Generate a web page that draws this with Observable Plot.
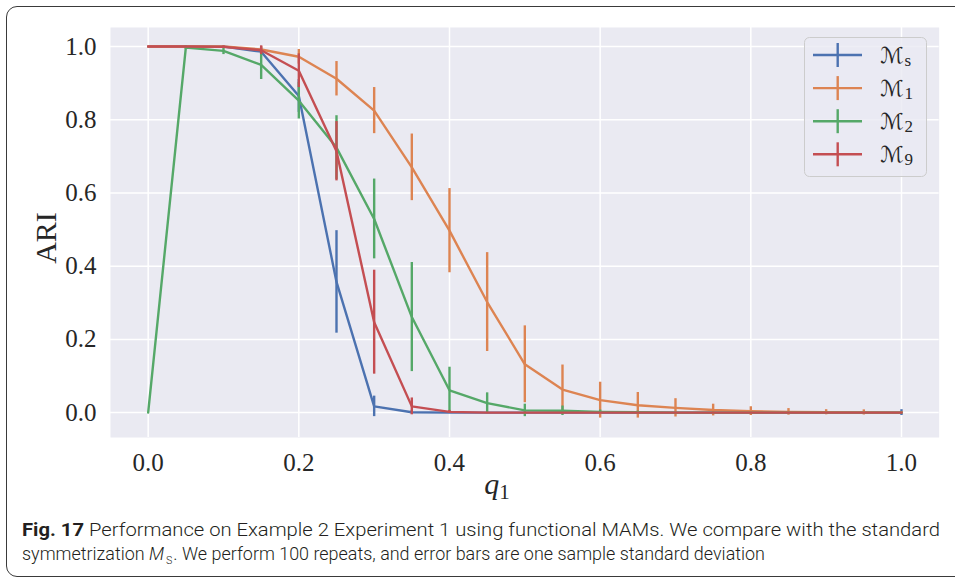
<!DOCTYPE html>
<html><head><meta charset="utf-8">
<script src="https://cdn.jsdelivr.net/npm/d3@7"></script>
<script src="https://cdn.jsdelivr.net/npm/@observablehq/plot@0.6"></script>
<style>
body{margin:0;background:#fff;}
#wrap{position:relative;width:955px;height:582px;overflow:hidden;}
#frame{position:absolute;left:6px;top:6px;width:1000px;height:571px;border:1.6px solid #3a3a3a;border-radius:11px;box-sizing:border-box;}
#chart{position:absolute;left:0;top:0;}
#caption{position:absolute;left:0;top:505px;}
svg text{fill:#262626;}
#caption text{fill:#231f20;}
</style></head><body>
<div id="wrap"><div id="frame"></div><div id="chart"></div><svg id="caption" width="955" height="77"></svg></div>
<script>
const q = [0, 0.05, 0.1, 0.15, 0.2, 0.25, 0.3, 0.35, 0.4, 0.45, 0.5, 0.55, 0.6, 0.65, 0.7, 0.75, 0.8, 0.85, 0.9, 0.95, 1.0];
const seriesKeys = ["s", "1", "2", "9"];
const seriesColors = ["#4C72B0", "#DD8452", "#55A868", "#C44E52"];
const meanS = [1, 1, 1, 0.986, 0.865, 0.357, 0.017, 0.001, 0, 0, 0, 0, 0, 0, 0, 0, 0, 0, 0, 0, 0];
const sdS   = [0, 0, 0, 0.01, 0.045, 0.14, 0.028, 0.005, 0.002, 0, 0, 0, 0, 0, 0, 0, 0, 0, 0, 0, 0.008];
const mean1 = [1, 1, 1, 0.992, 0.972, 0.912, 0.825, 0.67, 0.497, 0.302, 0.132, 0.063, 0.034, 0.02, 0.013, 0.007, 0.004, 0.002, 0.001, 0.0005, 0];
const sd1   = [0, 0, 0, 0.008, 0.02, 0.047, 0.063, 0.091, 0.115, 0.135, 0.105, 0.067, 0.049, 0.035, 0.025, 0.016, 0.012, 0.009, 0.007, 0.007, 0.003];
const mean2 = [0, 0.997, 0.988, 0.95, 0.852, 0.724, 0.529, 0.261, 0.061, 0.026, 0.006, 0.005, 0.002, 0.001, 0, 0, 0, 0, 0, 0, 0];
const sd2   = [0, 0.005, 0.01, 0.04, 0.05, 0.087, 0.109, 0.149, 0.063, 0.028, 0.017, 0.013, 0.005, 0.003, 0, 0, 0, 0, 0, 0, 0];
const mean9 = [1, 1, 0.999, 0.99, 0.934, 0.714, 0.247, 0.017, 0.002, 0, 0, 0, 0, 0, 0, 0, 0, 0, 0, 0, 0];
const sd9   = [0, 0, 0.003, 0.012, 0.046, 0.081, 0.142, 0.023, 0.004, 0, 0, 0, 0, 0, 0, 0, 0, 0, 0, 0, 0];
const xTicks = [0, 0.2, 0.4, 0.6, 0.8, 1.0];
const yTicks = [0, 0.2, 0.4, 0.6, 0.8, 1.0];
const xLabel = "q", xLabelSub = "1";
const yLabel = "ARI";
const captionBold = "Fig. 17";
const captionLine1 = "  Performance on Example 2 Experiment 1 using functional MAMs. We compare with the standard";
const captionLine2a = "symmetrization ";
const captionLine2b = ". We perform 100 repeats, and error bars are one sample standard deviation";

const means = [meanS, mean1, mean2, mean9];
const sds = [sdS, sd1, sd2, sd9];
const series = seriesKeys.map((k, i) => q.map((x, j) => ({
  q: x, m: means[i][j], lo: means[i][j] - sds[i][j], hi: means[i][j] + sds[i][j], key: k
})));

const serif = "'Liberation Serif', 'DejaVu Serif', serif";
const marks = [
  Plot.frame({fill: "#EAEAF2", stroke: null}),
  Plot.gridX(xTicks, {stroke: "white", strokeOpacity: 1, strokeWidth: 1.5}),
  Plot.gridY(yTicks, {stroke: "white", strokeOpacity: 1, strokeWidth: 1.5}),
  Plot.axisX(xTicks, {tickSize: 0, tickPadding: 16, fontSize: 25, fontFamily: serif, tickFormat: d => d.toFixed(1), label: null}),
  Plot.axisY(yTicks, {tickSize: 0, tickPadding: 14, fontSize: 25, fontFamily: serif, tickFormat: d => d.toFixed(1), label: null})
];
series.forEach((s, i) => {
  marks.push(Plot.ruleX(s, {x: "q", y1: "lo", y2: "hi", stroke: seriesColors[i], strokeWidth: 2.4}));
  marks.push(Plot.lineY(s, {x: "q", y: "m", stroke: seriesColors[i], strokeWidth: 2.4}));
});

const chart = Plot.plot({
  width: 955, height: 510,
  marginLeft: 110, marginRight: 16.35, marginTop: 27, marginBottom: 73,
  x: {domain: [-0.05, 1.05]},
  y: {domain: [-0.068, 1.052]},
  style: {background: "transparent", overflow: "visible"},
  marks
});
document.getElementById("chart").appendChild(chart);

const svg = d3.select(chart);
// axis labels
svg.append("text").attr("transform", "translate(56,238) rotate(-90)")
  .attr("text-anchor", "middle").attr("font-family", serif).attr("font-size", 30).text(yLabel);
const xl = svg.append("text").attr("x", 497).attr("y", 494).attr("text-anchor", "middle")
  .attr("font-family", serif).attr("font-size", 30);
xl.append("tspan").attr("font-style", "italic").text(xLabel);
xl.append("tspan").attr("font-size", 21).attr("dy", 5).text(xLabelSub);

// legend
const lg = svg.append("g");
lg.append("rect").attr("x", 804.5).attr("y", 37.5).attr("width", 122).attr("height", 139).attr("rx", 5)
  .attr("fill", "#EAEAF2").attr("fill-opacity", 0.8).attr("stroke", "#cccccc").attr("stroke-width", 1);
seriesKeys.forEach((k, i) => {
  const y = 55 + i * 33.1;
  lg.append("line").attr("x1", 813).attr("x2", 862).attr("y1", y).attr("y2", y).attr("stroke", seriesColors[i]).attr("stroke-width", 2.4);
  lg.append("line").attr("x1", 837.7).attr("x2", 837.7).attr("y1", y - 12).attr("y2", y + 12).attr("stroke", seriesColors[i]).attr("stroke-width", 2.4);
  const t = lg.append("text").attr("x", 880).attr("y", y + 8).attr("font-size", 22).attr("text-anchor", "start");
  t.append("tspan").attr("font-family", "'DejaVu Sans', sans-serif").text("\u2133");
  t.append("tspan").attr("font-family", serif).attr("font-size", 17).attr("dy", 3).attr("dx", 1).text(k);
});

// caption
const cap = d3.select("#caption");
const sans = "'Liberation Sans Narrow', 'Roboto', 'Open Sans', sans-serif";
const c1 = cap.append("text").attr("x", 22).attr("y", 31).attr("font-family", sans).attr("font-size", 18.5)
  .attr("font-weight", 300).attr("textLength", 918).attr("lengthAdjust", "spacingAndGlyphs");
c1.append("tspan").attr("font-weight", "bold").text(captionBold);
c1.append("tspan").text(captionLine1);
const c2 = cap.append("text").attr("x", 22).attr("y", 55).attr("font-family", sans).attr("font-size", 18.5)
  .attr("font-weight", 300).attr("textLength", 743).attr("lengthAdjust", "spacingAndGlyphs");
c2.append("tspan").text(captionLine2a);
c2.append("tspan").attr("font-style", "italic").text("M");
c2.append("tspan").attr("font-size", 11).attr("dy", 4).attr("dx", 2).text("S");
c2.append("tspan").attr("dy", -4).attr("dx", 1).text(captionLine2b);
</script>
</body></html>
